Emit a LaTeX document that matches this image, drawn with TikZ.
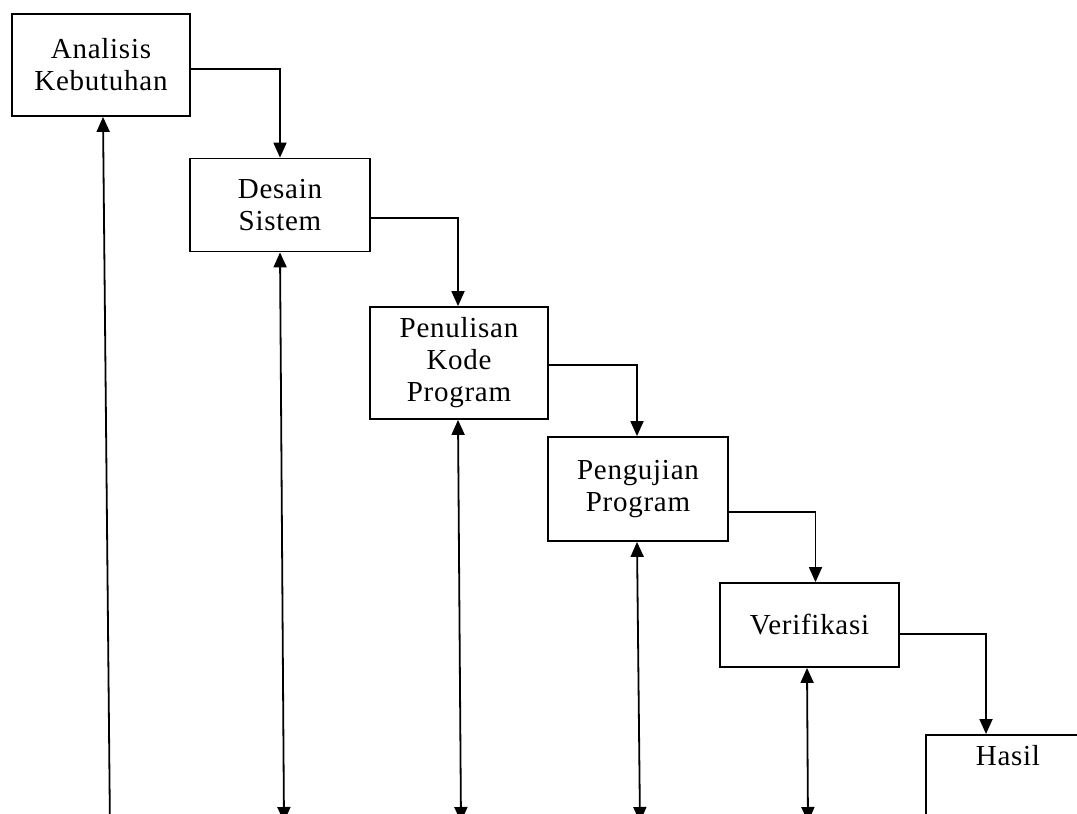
\documentclass[tikz,border=0pt]{standalone}
\usepackage{fontspec}
\setmainfont{Liberation Serif}[LetterSpace=2.5]
\usetikzlibrary{arrows.meta}
\begin{document}
\begin{tikzpicture}[x=1pt,y=-1pt,line width=1.8pt,
	tahap/.style={draw,rectangle,align=center,inner sep=0pt,font=\fontsize{29}{32}\selectfont},
	>={Triangle[width=13pt,length=15pt]}]
			\clip (0,0) rectangle (1077,814);
			\node[tahap,minimum width=178pt,minimum height=102pt] (A)at(101,65) {Analisis\\Kebutuhan};
			\node[tahap,minimum width=180pt,minimum height=93pt] (B)at(280,205) {Desain\\Sistem};
			\node[tahap,minimum width=178pt,minimum height=112pt] (C)at(459,363) {Penulisan\\Kode\\Program};
			\node[tahap,minimum width=180pt,minimum height=104pt] (D)at(638,489) {Pengujian\\Program};
			\node[tahap,minimum width=179pt,minimum height=84pt] (E)at(809.5,625) {Verifikasi};
			\node[tahap,minimum width=164pt,minimum height=160pt,anchor=north,
				label={[anchor=north,yshift=-7pt,font=\fontsize{29}{32}\selectfont]north:Hasil}] (H)at(1008,734) {};
			\coordinate (a1) at (110,830);
			\coordinate (b1) at (284,822);
			\coordinate (c1) at (461,822);
			\coordinate (d1) at (640,822);
			\coordinate (e1) at (808,822);
			\draw[->] ([yshift=-4pt]A.east) -| (B.north);
			\draw[->] ([yshift=-13pt]B.east) -| ([xshift=-1pt]C.north);
			\draw[->] ([yshift=-2pt]C.east) -| ([xshift=-1pt]D.north);
			\draw[->] ([yshift=-23pt]D.east) -| ([xshift=6pt]E.north);
			\draw[->] ([yshift=-9pt]E.east) -| ([xshift=-22pt]H.north);
			\draw[->] (a1) -- ([xshift=2pt]A.south);
			\draw[<->] (b1) -- (B.south);
			\draw[<->] (c1) -- ([xshift=-1pt]C.south);
			\draw[<->] (d1) -- ([xshift=-1pt]D.south);
			\draw[<->] (e1) -- ([xshift=-2.5pt]E.south);
		\end{tikzpicture}
\end{document}
